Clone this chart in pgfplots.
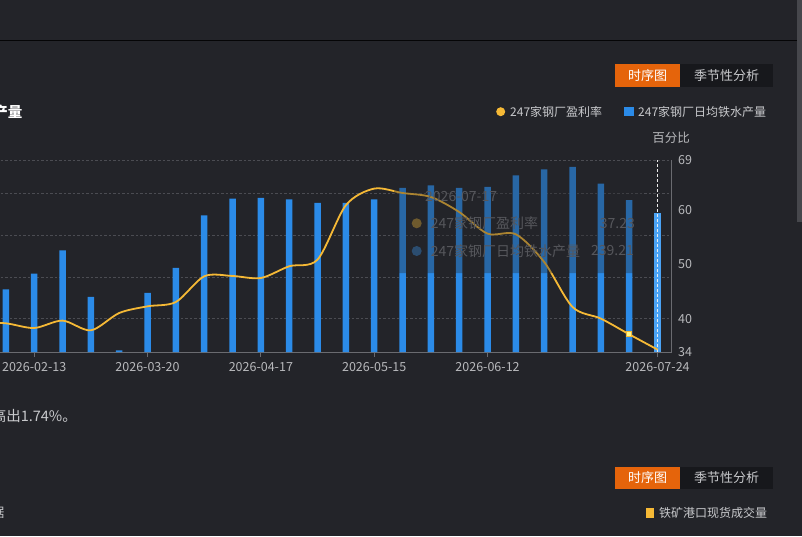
\documentclass[border=0pt]{standalone}
\usepackage{pgfplots}
\pgfplotsset{compat=1.18}
\usepackage{fontspec}
\setmainfont{Noto Sans CJK SC}
\definecolor{bg}{HTML}{232429}
\definecolor{barcol}{HTML}{2B8BE8}
\definecolor{barhl}{HTML}{4AA3F5}
\definecolor{linecol}{HTML}{F5B936}
\definecolor{gridcol}{HTML}{4B4C52}
\definecolor{axiscol}{HTML}{6A6B70}
\definecolor{tickcol}{HTML}{B8B9BC}
\definecolor{legcol}{HTML}{C8C9CC}
\definecolor{obtn}{HTML}{E5640B}
\definecolor{dbtn}{HTML}{17181C}
\definecolor{fade}{HTML}{56575C}
\definecolor{fadeo}{HTML}{6E5A2E}
\definecolor{fadeb}{HTML}{2B4D70}
\definecolor{scroll}{HTML}{46474C}
\begin{document}
\begin{tikzpicture}
\begin{scope}[x=1pt,y=1pt]
\fill[bg] (0,0) rectangle (802,536);
\end{scope}
\begin{scope}
\clip (0pt,0pt) rectangle (802pt,536pt);
\begin{scope}[x=1pt,y=1pt]
% separator and scrollbar
\draw[line width=1.5pt, color=black!85!bg] (0,536-40.3) -- (797,536-40.3);
\fill[scroll] (797,536-222) rectangle (802,536);
% buttons panel 1
\fill[obtn] (615,536-87) rectangle (680,536-64.5);
\node[text=white, font=\fontsize{13}{15}\selectfont] at (647.5,536-75.8) {时序图};
\fill[dbtn] (680,536-87) rectangle (773,536-64.5);
\node[text=legcol, font=\fontsize{13}{15}\selectfont] at (726.5,536-75.8) {季节性分析};
% title fragment
\node[anchor=east, text=white, font=\fontsize{14.5}{16}\selectfont\bfseries, inner sep=0pt] at (22.7,536-112) {铁水产量};
% legend
\fill[linecol] (500.7,536-111.7) circle (4.5);
\node[anchor=west, text=legcol, font=\fontsize{12}{14}\selectfont, inner sep=0pt] at (510,536-111.7) {247家钢厂盈利率};
\fill[barcol] (624.3,536-116) rectangle (633.7,536-107.3);
\node[anchor=west, text=legcol, font=\fontsize{12}{14}\selectfont, inner sep=0pt] at (638,536-111.7) {247家钢厂日均铁水产量};
\node[text=tickcol, font=\fontsize{12.5}{14}\selectfont] at (671,536-138.3) {百分比};
\end{scope}
% bars axis
\begin{axis}[
  at={(-8.3pt,184pt)}, anchor=south west, scale only axis,
  width=680pt, height=191.7pt,
  xmin=-0.5, xmax=23.5, ymin=221, ymax=244,
  axis x line*=bottom, axis y line*=left,
  x axis line style={draw=axiscol, line width=1pt, -},
  y axis line style={draw=none},
  ytick={225,230,235,240,244}, yticklabels={},
  ytick style={draw=none},
  ymajorgrids, major grid style={draw=gridcol, dash pattern=on 2.5pt off 2pt, line width=0.8pt},
  xtick={1,5,9,13,17,23},
  xticklabels={2026-02-13,2026-03-20,2026-04-17,2026-05-15,2026-06-12,2026-07-24},
  xtick style={draw=axiscol, line width=1pt},
  major tick length=4.5pt, tick align=outside,
  xticklabel style={font=\fontsize{12.5}{14}\selectfont, text=tickcol, inner sep=2pt, yshift=-4pt},
]
\addplot[ybar, bar width=6.5pt, fill=barcol, draw=none] coordinates {
(0,228.5) (1,230.4) (2,233.2) (3,227.6) (4,221.2) (5,228.1) (6,231.1) (7,237.4)
(8,239.4) (9,239.5) (10,239.3) (11,238.9) (12,238.9) (13,239.3) (14,240.7) (15,241.0)
(16,240.7) (17,240.8) (18,242.2) (19,242.9) (20,243.2) (21,241.2) (22,239.21)
};
\addplot[ybar, bar width=6.5pt, fill=barhl, draw=none] coordinates {(23,237.7)};
\draw[white!85!gray, dash pattern=on 3pt off 2pt, line width=0.9pt] (axis cs:23,221) -- (axis cs:23,244);
\end{axis}
% line axis
\begin{axis}[
  at={(-8.3pt,184pt)}, anchor=south west, scale only axis,
  width=680pt, height=191.7pt,
  xmin=-0.5, xmax=23.5, ymin=34, ymax=69,
  axis x line=none, axis y line*=right,
  y axis line style={draw=axiscol, line width=1pt, -},
  ytick={34,40,50,60,69}, ytick style={draw=none},
  yticklabel style={font=\fontsize{12.5}{14}\selectfont, text=tickcol, xshift=3pt},
  /pgf/number format/assume math mode=true,
]
\addplot[smooth, color=linecol, line width=1.8pt] coordinates {
(-1,39.4) (0,39.24) (1,38.38) (2,39.73) (3,37.96) (4,41.12) (5,42.34) (6,43.13)
(7,47.82) (8,47.88) (9,47.51) (10,49.65) (11,50.87) (12,60.79) (13,63.83) (14,63.03)
(15,62.3) (16,59.56) (17,55.61) (18,55.49) (19,50.43) (20,42.22) (21,40.1) (22,37.23) (23,34.44)
};
\addplot[only marks, mark=square*, mark size=2.6pt, mark options={fill=yellow!45!white, draw=linecol, line width=1pt}] coordinates {(22,37.23)};
\end{axis}
\begin{scope}[x=1pt,y=1pt]
% faded tooltip
\fill[bg, opacity=0.35, rounded corners=4pt] (394,536-273) rectangle (642,536-166);
\node[anchor=west, text=fade, font=\fontsize{14}{16}\selectfont, inner sep=0pt] at (425,536-196.5) {2026-07-17};
\fill[fadeo] (416.7,536-223.3) circle (5);
\node[anchor=west, text=fade, font=\fontsize{14}{16}\selectfont, inner sep=0pt] at (430.7,536-223.3) {247家钢厂盈利率};
\node[anchor=east, text=fade, font=\fontsize{14}{16}\selectfont, inner sep=0pt] at (635,536-223.3) {37.23};
\fill[fadeb] (416.7,536-251) circle (5);
\node[anchor=west, text=fade, font=\fontsize{14}{16}\selectfont, inner sep=0pt] at (430.7,536-251) {247家钢厂日均铁水产量};
\node[anchor=east, text=fade, font=\fontsize{14}{16}\selectfont, inner sep=0pt] at (634,536-251) {239.21};
% text below
\node[anchor=east, text=legcol, font=\fontsize{14.5}{16}\selectfont, inner sep=0pt] at (77,536-415.5) {环比高出1.74\%。};
% panel 2
\fill[obtn] (615,536-489) rectangle (680,536-466.5);
\node[text=white, font=\fontsize{13}{15}\selectfont] at (647.5,536-477.8) {时序图};
\fill[dbtn] (680,536-489) rectangle (773,536-466.5);
\node[text=legcol, font=\fontsize{13}{15}\selectfont] at (726.5,536-477.8) {季节性分析};
\fill[linecol] (645.5,536-517.5) rectangle (654,536-508);
\node[anchor=west, text=legcol, font=\fontsize{12}{14}\selectfont, inner sep=0pt] at (659,536-512.5) {铁矿港口现货成交量};
\node[anchor=east, text=legcol, font=\fontsize{13}{15}\selectfont, inner sep=0pt] at (4.5,536-512.5) {数据};
\end{scope}
\end{scope}
\pgfresetboundingbox
\path[use as bounding box] (0pt,0pt) rectangle (802pt,536pt);
\end{tikzpicture}
\end{document}
